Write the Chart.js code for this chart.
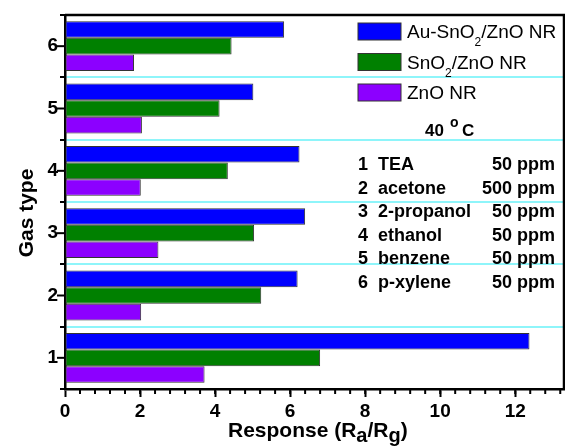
<!DOCTYPE html>
<html>
<head>
<meta charset="utf-8">
<title>Gas response</title>
<script src="https://cdn.jsdelivr.net/npm/chart.js@4.4.1/dist/chart.umd.min.js"></script>
<style>
    body { margin: 0; background: #fff; }
    #wrap { width: 565px; height: 447px; }
</style>
</head>
<body>
<div id="wrap"><canvas id="chart"></canvas></div>
<script>
// categorias (tipo de gas, 1 embaixo)
const gasTypes = ['1', '2', '3', '4', '5', '6'];
const gasNames = ['TEA', 'acetone', '2-propanol', 'ethanol', 'benzene', 'p-xylene'];
const gasConc = ['50 ppm', '500 ppm', '50 ppm', '50 ppm', '50 ppm', '50 ppm'];

// series - resposta (Ra/Rg) por tipo de gas
const seriesNames = ['Au-SnO_2/ZnO NR', 'SnO_2/ZnO NR', 'ZnO NR'];
const auSnO2ZnO = [12.38, 6.20, 6.40, 6.25, 5.02, 5.84];
const snO2ZnO = [6.80, 5.23, 5.04, 4.34, 4.12, 4.44];
const znO = [3.72, 2.03, 2.49, 2.02, 2.05, 1.84];

// eixo x
const xTicks = [0, 2, 4, 6, 8, 10, 12];
const xMax = 13.3;
const minorStep = 0.4;

const FONT = '"Liberation Sans", Arial, sans-serif';
Chart.defaults.font.family = FONT;

// texto com subscrito: "_x" vira subscrito
function drawRich(ctx, text, x, y, size, subSize, subDrop, weight) {
    const parts = text.split(/_(\w)/);
    let cx = x;
    parts.forEach((p, i) => {
        const isSub = i % 2 === 1;
        ctx.font = `${weight} ${isSub ? subSize : size}px ${FONT}`;
        ctx.fillText(p, cx, isSub ? y + subDrop : y);
        cx += ctx.measureText(p).width;
    });
}

const extrasPlugin = {
    id: 'extras',
    afterDraw(chart) {
        const ctx = chart.ctx;
        const area = chart.chartArea;
        const xs = chart.scales.x;
        const ys = chart.scales.y;
        ctx.save();

        // moldura superior e direita
        ctx.strokeStyle = '#000';
        ctx.lineWidth = 2.5;
        ctx.beginPath();
        ctx.moveTo(area.left, area.top);
        ctx.lineTo(area.right, area.top);
        ctx.lineTo(area.right, area.bottom);
        ctx.stroke();

        // ticks menores do eixo x
        ctx.lineWidth = 2;
        for (let i = 1; i * minorStep < xMax; i++) {
            const px = xs.getPixelForValue(i * minorStep);
            ctx.beginPath();
            ctx.moveTo(px, area.bottom);
            ctx.lineTo(px, area.bottom + 5);
            ctx.stroke();
        }
        // ticks maiores do eixo y (centro das categorias)
        gasTypes.forEach((g, i) => {
            const py = ys.getPixelForValue(i);
            ctx.beginPath();
            ctx.moveTo(area.left - 8, py);
            ctx.lineTo(area.left, py);
            ctx.stroke();
        });

        // legenda
        ctx.fillStyle = '#000';
        ctx.textBaseline = 'alphabetic';
        ctx.textAlign = 'left';
        chart.data.datasets.forEach((ds, i) => {
            const by = 23 + i * 30.5;
            ctx.fillStyle = ds.backgroundColor;
            ctx.fillRect(358, by, 43, 17);
            ctx.strokeStyle = '#333';
            ctx.lineWidth = 1;
            ctx.strokeRect(358, by, 43, 17);
            ctx.fillStyle = '#000';
            drawRich(ctx, seriesNames[i], 407, by + 15, 19, 12, 8, 'normal');
        });

        // temperatura
        ctx.font = `bold 17px ${FONT}`;
        ctx.fillText('40', 425, 136);
        ctx.font = `bold 14px ${FONT}`;
        ctx.fillText('o', 450, 127);
        ctx.font = `bold 17px ${FONT}`;
        ctx.fillText('C', 462, 136);

        // lista de gases
        ctx.font = `bold 18px ${FONT}`;
        gasNames.forEach((name, i) => {
            const ty = 170 + i * 23.6;
            ctx.textAlign = 'left';
            ctx.fillText(gasTypes[i], 358, ty);
            ctx.fillText(name, 378, ty);
            ctx.textAlign = 'right';
            ctx.fillText(gasConc[i], 555, ty);
        });

        // titulos dos eixos
        ctx.textAlign = 'left';
        drawRich(ctx, 'Response (R_a/R_g)', 228, 437, 21, 20, 5, 'bold');
        ctx.translate(33, 213);
        ctx.rotate(-Math.PI / 2);
        ctx.textAlign = 'center';
        ctx.font = `bold 21px ${FONT}`;
        ctx.fillText('Gas type', 0, 0);

        ctx.restore();
    }
};

const ctx = document.getElementById('chart').getContext('2d');
new Chart(ctx, {
    type: 'bar',
    data: {
        labels: gasTypes,
        datasets: [
            { label: 'Au-SnO2/ZnO NR', data: auSnO2ZnO, backgroundColor: '#0000ff' },
            { label: 'SnO2/ZnO NR', data: snO2ZnO, backgroundColor: '#008000' },
            { label: 'ZnO NR', data: znO, backgroundColor: '#8c00ff' }
        ].map(ds => Object.assign(ds, {
            borderColor: '#333',
            borderWidth: 1,
            borderSkipped: false,
            categoryPercentage: 0.8,
            barPercentage: 1.0
        }))
    },
    options: {
        indexAxis: 'y',
        responsive: true,
        maintainAspectRatio: false,
        animation: false,
        layout: { padding: { top: 15, right: 1, left: 0, bottom: 0 } },
        plugins: {
            legend: { display: false },
            tooltip: { enabled: false }
        },
        scales: {
            x: {
                type: 'linear',
                min: 0,
                max: xMax,
                afterBuildTicks: (scale) => {
                    scale.ticks = xTicks.map(v => ({ value: v }));
                },
                afterFit: (scale) => { scale.height = 58; },
                grid: {
                    drawOnChartArea: false,
                    drawTicks: true,
                    tickLength: 8,
                    tickColor: '#000',
                    tickWidth: 2
                },
                border: { color: '#000', width: 2.5 },
                ticks: {
                    color: '#000',
                    padding: 3,
                    font: { size: 19, weight: 'bold' }
                }
            },
            y: {
                type: 'category',
                reverse: true,
                offset: true,
                afterFit: (scale) => { scale.width = 65; },
                grid: {
                    offset: true,
                    color: '#8ef5fa',
                    lineWidth: 2,
                    tickLength: 5,
                    tickColor: '#000',
                    tickWidth: 2
                },
                border: { color: '#000', width: 2.5 },
                ticks: {
                    color: '#000',
                    padding: 2,
                    font: { size: 19, weight: 'bold' }
                }
            }
        }
    },
    plugins: [extrasPlugin]
});
</script>
</body>
</html>
